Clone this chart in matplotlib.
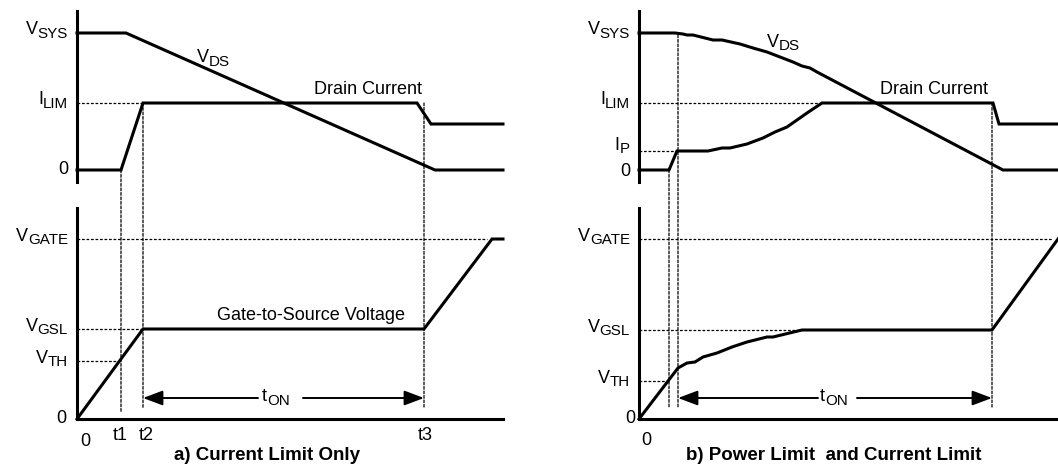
import matplotlib
matplotlib.use("Agg")
import matplotlib.pyplot as plt
from matplotlib.patches import ConnectionPatch

plt.rcParams['font.family'] = ['Liberation Sans', 'DejaVu Sans']

#### Data ####
# Panel a) current limit only  (time and levels in arbitrary units)
a_t1, a_t2, a_t3, a_end = 44, 66, 347, 426
a_vsys, a_ilim = 137, 67
a_vgate, a_vgsl, a_vth = 180, 90, 58

a_id_t = [0, 44, 66, 340, 354, 426]
a_id_v = [0, 0, 67, 67, 46, 46]
a_vds_t = [0, 49, 358, 426]
a_vds_v = [137, 137, 0, 0]
a_vgs_t = [0, 66, 347, 415, 426]
a_vgs_v = [0, 90, 90, 180, 180]

# Panel b) power limit and current limit
b_t1, b_t2, b_t3, b_end = 30, 39, 353, 419
b_vsys, b_ilim, b_ip = 137, 67, 19
b_vgate, b_vgsl, b_vth = 180, 89, 38

b_id_t = [0, 30, 38, 69, 83, 91, 108, 124, 136, 148, 158, 168, 183, 354, 360, 419]
b_id_v = [0, 0, 19, 19, 22, 22, 26, 32, 38, 43, 50, 57, 67, 67, 46, 46]
b_vds_t = [0, 36, 44, 48, 54, 74, 83, 101, 114, 128, 141, 154, 163, 171, 178, 364, 419]
b_vds_v = [137, 137, 136, 135, 135, 130, 130, 126, 122, 118, 113, 108, 104, 102, 98, 0, 0]
b_vgs_t = [0, 39, 48, 56, 64, 78, 93, 108, 128, 134, 163, 353, 419]
b_vgs_v = [0, 51, 56, 57, 62, 66, 72, 77, 82, 82, 89, 89, 180]

W, H = 1058, 465
fig = plt.figure(figsize=(W / 100, H / 100), dpi=100)
fig.patch.set_facecolor('white')

LW = 2.2
DASH = (0, (2.2, 1.4))
DLW = 0.9
FS = 13
SUB = 0.84 * FS


def px_axes(left, top, right, bottom, xmax, ylim, bottom_spine):
    ax = fig.add_axes([left / W, 1 - bottom / H, (right - left) / W, (bottom - top) / H])
    ax.set_xlim(0, xmax)
    ax.set_ylim(*ylim)
    ax.set_facecolor('none')
    for s in ['top', 'right']:
        ax.spines[s].set_visible(False)
    ax.spines['bottom'].set_visible(bottom_spine)
    ax.spines['left'].set_linewidth(LW)
    ax.spines['bottom'].set_linewidth(LW)
    ax.set_xticks([])
    ax.set_yticks([])
    return ax


def hdash(ax, x1, y):
    ax.plot([0, x1], [y, y], color='k', lw=DLW, linestyle=DASH, clip_on=False)


def vdash(ax_top, ax_bot, t, y_top, y_bot):
    con = ConnectionPatch(xyA=(t, y_top), coordsA=ax_top.transData,
                          xyB=(t, y_bot), coordsB=ax_bot.transData,
                          color='k', lw=DLW, linestyle=DASH)
    fig.add_artist(con)


def ylabel(ax, y, main, sub=None):
    # right aligned level label, subscript centred on the level
    if sub is None:
        ax.text(-9, y, main, ha='right', va='center', fontsize=FS)
        return
    s = ax.text(-9, y - 1, sub, ha='right', va='center', fontsize=SUB)
    ax.annotate(main, xy=(0, 0), xycoords=s, xytext=(0, 2.5), textcoords='offset pixels',
                ha='right', va='bottom', fontsize=FS)


def sublabel(ax, x, y, main, sub):
    # left aligned, y = baseline of the main letter
    m = ax.text(x, y, main, ha='left', va='baseline', fontsize=FS)
    ax.annotate(sub, xy=(1, 0), xycoords=m, xytext=(0, -2.5), textcoords='offset pixels',
                ha='left', va='bottom', fontsize=SUB)


def ton_arrow(ax, x0, x1, y, gap0, gap1, xlab):
    style = '-|>,head_length=1.2,head_width=0.45'
    ax.annotate('', xy=(x0, y), xytext=(gap0, y),
                arrowprops=dict(arrowstyle=style, color='k', lw=1.4, shrinkA=0, shrinkB=0))
    ax.annotate('', xy=(x1, y), xytext=(gap1, y),
                arrowprops=dict(arrowstyle=style, color='k', lw=1.4, shrinkA=0, shrinkB=0))
    sublabel(ax, xlab, y - 3, 't', 'ON')


#### Panel a ####
ta = px_axes(77, 11, 503, 182, a_end, (-12, 159), False)
ba = px_axes(77, 208, 503, 419, a_end, (0, 211), True)

ta.plot(a_id_t, a_id_v, color='k', lw=LW, clip_on=False, solid_joinstyle='miter')
ta.plot(a_vds_t, a_vds_v, color='k', lw=LW, clip_on=False, solid_joinstyle='miter')
ba.plot(a_vgs_t, a_vgs_v, color='k', lw=LW, clip_on=False, solid_joinstyle='miter')

hdash(ta, a_t2, a_ilim)
hdash(ba, 410, a_vgate)
hdash(ba, a_t2, a_vgsl)
hdash(ba, a_t1, a_vth)
vdash(ta, ba, a_t1, 0, 7)
vdash(ta, ba, a_t2, a_ilim, 11)
vdash(ta, ba, a_t3, a_ilim, 12)

ylabel(ta, a_vsys, 'V', 'SYS')
ylabel(ta, a_ilim, 'I', 'LIM')
ylabel(ta, 0, '0')
ylabel(ba, a_vgate, 'V', 'GATE')
ylabel(ba, a_vgsl, 'V', 'GSL')
ylabel(ba, a_vth, 'V', 'TH')
ba.text(-11, 1, '0', ha='right', va='center', fontsize=FS)

sublabel(ta, 120, 108, 'V', 'DS')
ta.text(291, 80, 'Drain Current', ha='center', va='center', fontsize=FS)
ba.text(234, 104, 'Gate-to-Source Voltage', ha='center', va='center', fontsize=FS)

ton_arrow(ba, a_t2, a_t3, 21, 181, 226, 185)

ba.text(8, -22, '0', ha='center', va='center', fontsize=FS)
ba.text(a_t1 - 1, -16, 't1', ha='center', va='center', fontsize=FS)
ba.text(a_t2 + 3, -16, 't2', ha='center', va='center', fontsize=FS)
ba.text(a_t3 + 1, -16, 't3', ha='center', va='center', fontsize=FS)
ba.text(190, -36, 'a) Current Limit Only', ha='center', va='center',
        fontsize=13.5, fontweight='bold')

#### Panel b ####
tb = px_axes(639, 11, 1058, 182, b_end, (-12, 159), False)
bb = px_axes(639, 208, 1058, 419, b_end, (0, 211), True)

tb.plot(b_id_t, b_id_v, color='k', lw=LW, clip_on=False, solid_joinstyle='miter')
tb.plot(b_vds_t, b_vds_v, color='k', lw=LW, clip_on=False, solid_joinstyle='miter')
bb.plot(b_vgs_t, b_vgs_v, color='k', lw=LW, clip_on=False, solid_joinstyle='miter')

hdash(tb, 183, b_ilim)
hdash(tb, b_t2 - 1, b_ip)
hdash(bb, 414, b_vgate)
hdash(bb, 163, b_vgsl)
hdash(bb, b_t1, b_vth)
vdash(tb, bb, b_t1, 0, 12)
vdash(tb, bb, b_t2, b_vsys - 2, 12)
vdash(tb, bb, b_t3, b_ilim, 12)

ylabel(tb, b_vsys, 'V', 'SYS')
ylabel(tb, b_ilim, 'I', 'LIM')
ylabel(tb, b_ip + 3, 'I', 'P')
ylabel(tb, -2, '0')
ylabel(bb, b_vgate, 'V', 'GATE')
ylabel(bb, b_vgsl, 'V', 'GSL')
ylabel(bb, b_vth, 'V', 'TH')
bb.text(-4, 1, '0', ha='right', va='center', fontsize=FS)

sublabel(tb, 128, 123, 'V', 'DS')
tb.text(295, 80, 'Drain Current', ha='center', va='center', fontsize=FS)

ton_arrow(bb, b_t2, b_t3, 21, 179, 218, 181)

bb.text(7, -21, '0', ha='center', va='center', fontsize=FS)
bb.text(195, -36, 'b) Power Limit  and Current Limit', ha='center', va='center',
        fontsize=13.5, fontweight='bold')

plt.savefig('out.png', dpi=100)
plt.close()
